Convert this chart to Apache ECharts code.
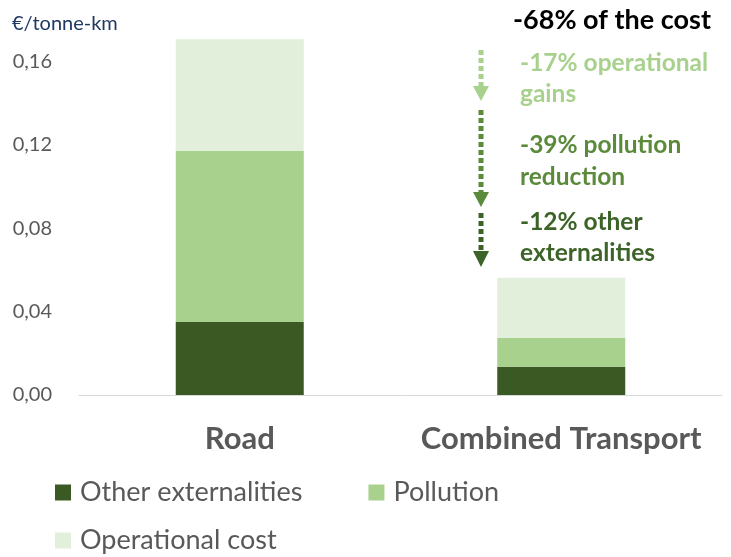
<!DOCTYPE html>
<html><head><meta charset="utf-8">
<script src="https://cdn.jsdelivr.net/npm/echarts@6/dist/echarts.min.js"></script>
<style>html,body{margin:0;padding:0;background:#fff}#c{width:731px;height:557px}</style>
</head><body><div id="c"></div>
<script>
var categories = ['Road', 'Combined Transport'];
var otherExternalities = [0.035, 0.0136];
var pollution = [0.0822, 0.0138];
var operationalCost = [0.0536, 0.0289];
var seriesNames = ['Other externalities', 'Pollution', 'Operational cost'];
var colors = ['#3b5a23', '#a9d18e', '#e2efda'];
var FONT = 'Lato';

var chart = echarts.init(document.getElementById('c'));
function mkSeries(name, data, color) {
  return { name: name, type: 'bar', stack: 'total', data: data, barWidth: 128,
    itemStyle: { color: color }, emphasis: { disabled: true } };
}
var ax = 481;
var annFont = 24.5;
chart.setOption({
  animation: false,
  textStyle: { fontFamily: FONT },
  grid: { left: 79, right: 9, top: 20, bottom: 162 },
  xAxis: {
    type: 'category', data: categories,
    axisTick: { show: false },
    axisLine: { lineStyle: { color: '#d9d9d9', width: 1 } },
    axisLabel: { interval: 0, hideOverlap: false, color: '#595959', fontSize: 31, fontWeight: 'bold', margin: 28, fontFamily: FONT }
  },
  yAxis: {
    type: 'value', min: 0, max: 0.18, interval: 0.02,
    splitLine: { show: false },
    axisLine: { show: false }, axisTick: { show: false },
    axisLabel: {
      color: '#595959', fontSize: 20, margin: 27, fontFamily: FONT,
      formatter: function (v) {
        var k = Math.round(v * 100);
        if (k % 4 !== 0 || k > 16) return '';
        return v.toFixed(2).replace('.', ',');
      }
    }
  },
  legend: [
    { data: ['Other externalities', 'Pollution'], left: 50, top: 474, itemWidth: 16, itemHeight: 16, itemGap: 66,
      icon: 'rect', textStyle: { color: '#595959', fontSize: 27, fontFamily: FONT, padding: [0, 0, 0, 4] }, selectedMode: false },
    { data: ['Operational cost'], left: 50, top: 522, itemWidth: 16, itemHeight: 16,
      icon: 'rect', textStyle: { color: '#595959', fontSize: 27, fontFamily: FONT, padding: [0, 0, 0, 4] }, selectedMode: false }
  ],
  series: [
    mkSeries(seriesNames[0], otherExternalities, colors[0]),
    mkSeries(seriesNames[1], pollution, colors[1]),
    mkSeries(seriesNames[2], operationalCost, colors[2])
  ],
  graphic: [
    { type: 'text', x: 12, y: 24, style: { text: '€/tonne-km', fill: '#1f3864', fontSize: 20, fontFamily: FONT, verticalAlign: 'middle' } },
    { type: 'text', x: 513, y: 20, style: { text: '-68% of the cost', fill: '#000', fontSize: 27, fontWeight: 'bold', fontFamily: FONT, verticalAlign: 'middle' } },
    { type: 'text', x: 520, y: 63, style: { text: '-17% operational', fill: '#a9d18e', fontSize: annFont, fontWeight: 'bold', fontFamily: FONT, verticalAlign: 'middle' } },
    { type: 'text', x: 520, y: 94, style: { text: 'gains', fill: '#a9d18e', fontSize: annFont, fontWeight: 'bold', fontFamily: FONT, verticalAlign: 'middle' } },
    { type: 'text', x: 520, y: 145, style: { text: '-39% pollution', fill: '#5a8a3a', fontSize: annFont, fontWeight: 'bold', fontFamily: FONT, verticalAlign: 'middle' } },
    { type: 'text', x: 520, y: 177, style: { text: 'reduction', fill: '#5a8a3a', fontSize: annFont, fontWeight: 'bold', fontFamily: FONT, verticalAlign: 'middle' } },
    { type: 'text', x: 520, y: 222, style: { text: '-12% other', fill: '#3d6428', fontSize: annFont, fontWeight: 'bold', fontFamily: FONT, verticalAlign: 'middle' } },
    { type: 'text', x: 520, y: 253, style: { text: 'externalities', fill: '#3d6428', fontSize: annFont, fontWeight: 'bold', fontFamily: FONT, verticalAlign: 'middle' } },
    { type: 'line', shape: { x1: ax, y1: 50, x2: ax, y2: 86 }, style: { stroke: '#a9d18e', lineWidth: 5, lineDash: [5, 3] } },
    { type: 'polygon', shape: { points: [[ax - 8, 86], [ax + 8, 86], [ax, 101]] }, style: { fill: '#a9d18e' } },
    { type: 'line', shape: { x1: ax, y1: 110, x2: ax, y2: 192 }, style: { stroke: '#5a8a3a', lineWidth: 5, lineDash: [5, 3] } },
    { type: 'polygon', shape: { points: [[ax - 8, 192], [ax + 8, 192], [ax, 207]] }, style: { fill: '#5a8a3a' } },
    { type: 'line', shape: { x1: ax, y1: 213, x2: ax, y2: 251 }, style: { stroke: '#3d6428', lineWidth: 5, lineDash: [5, 3] } },
    { type: 'polygon', shape: { points: [[ax - 8, 251], [ax + 8, 251], [ax, 267]] }, style: { fill: '#3d6428' } }
  ]
});
</script></body></html>
